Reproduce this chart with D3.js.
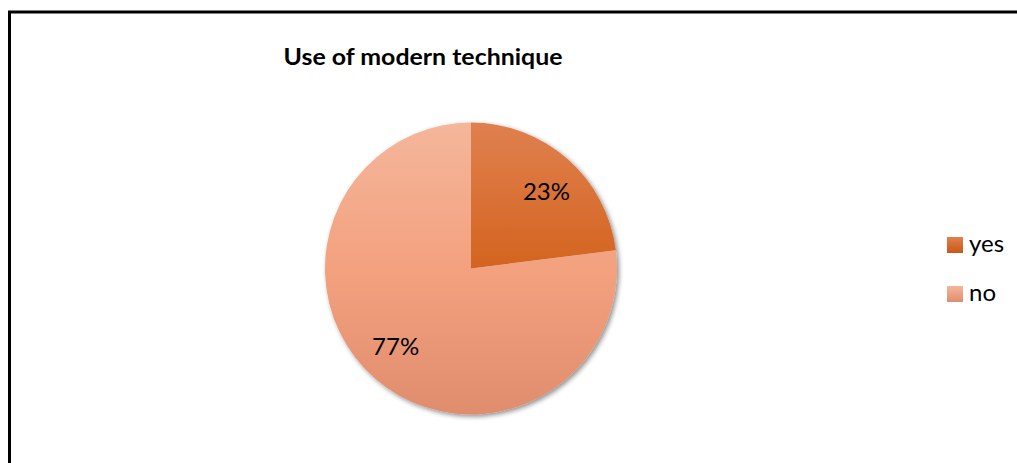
<!DOCTYPE html>
<html>
<head>
<meta charset="utf-8">
<script src="https://cdn.jsdelivr.net/npm/d3@7"></script>
<style>
  html, body { margin: 0; padding: 0; background: #fff; }
  svg { display: block; }
  text { font-family: Lato, "Open Sans", sans-serif; fill: #000; }
</style>
</head>
<body>
<svg id="chart" width="1017" height="463"></svg>
<script>
// Chart data
const title = "Use of modern technique";
const categories = ["yes", "no"];
const values = [23, 77];
const valueLabels = ["23%", "77%"];

// Fill ramps per category (top, middle, bottom)
const ramps = [
  ["#e0804f", "#d4641f", "#ca5915"],
  ["#f5b69b", "#f3a17f", "#e08d6d"]
];

const W = 1017, H = 463;
const svg = d3.select("#chart");
const defs = svg.append("defs");

// Outer chart frame (continues past the right and bottom edges)
svg.append("rect")
  .attr("x", 9.5).attr("y", 12)
  .attr("width", W + 20).attr("height", H + 20)
  .attr("fill", "#fff")
  .attr("stroke", "#000")
  .attr("stroke-width", 3);

// Title
svg.append("text")
  .attr("x", 423).attr("y", 65)
  .attr("text-anchor", "middle")
  .attr("font-weight", "bold")
  .attr("font-size", 23)
  .attr("textLength", 279)
  .attr("lengthAdjust", "spacingAndGlyphs")
  .text(title);

// Pie geometry
const cx = 471, cy = 268.5, r = 146;

const pie = d3.pie().sort(null).value(d => d);
const arcs = pie(values);
const arc = d3.arc().innerRadius(0).outerRadius(r);
const labelArc = d3.arc().innerRadius(r * 0.74).outerRadius(r * 0.74);
const labelTurn = 0.05; // labels sit slightly clockwise of the slice middle

// Vertical gradients spanning the whole pie height (pie-local coordinates)
ramps.forEach((c, i) => {
  const g = defs.append("linearGradient")
    .attr("id", "grad" + i)
    .attr("gradientUnits", "userSpaceOnUse")
    .attr("x1", 0).attr("x2", 0)
    .attr("y1", -r).attr("y2", r);
  g.append("stop").attr("offset", "0%").attr("stop-color", c[0]);
  g.append("stop").attr("offset", "50%").attr("stop-color", c[1]);
  g.append("stop").attr("offset", "100%").attr("stop-color", c[2]);

  const lg = defs.append("linearGradient")
    .attr("id", "lgrad" + i)
    .attr("x1", 0).attr("x2", 0).attr("y1", 0).attr("y2", 1);
  lg.append("stop").attr("offset", "0%").attr("stop-color", c[0]);
  lg.append("stop").attr("offset", "100%").attr("stop-color", c[2]);
});

// Soft shadow beneath the pie
const f = defs.append("filter").attr("id", "shadow")
  .attr("x", "-20%").attr("y", "-20%").attr("width", "140%").attr("height", "140%");
f.append("feGaussianBlur").attr("in", "SourceAlpha").attr("stdDeviation", 2.5).attr("result", "b");
f.append("feOffset").attr("in", "b").attr("dx", 1.5).attr("dy", 2).attr("result", "o");
f.append("feComponentTransfer").attr("in", "o").attr("result", "s")
  .append("feFuncA").attr("type", "linear").attr("slope", 0.45);
const m = f.append("feMerge");
m.append("feMergeNode").attr("in", "s");
m.append("feMergeNode").attr("in", "SourceGraphic");

const pieG = svg.append("g")
  .attr("transform", `translate(${cx},${cy})`);

pieG.append("g").attr("filter", "url(#shadow)")
  .selectAll("path")
  .data(arcs)
  .join("path")
  .attr("d", arc)
  .attr("fill", (d, i) => `url(#grad${i})`);

// Percentage labels
pieG.selectAll("text.val")
  .data(arcs)
  .join("text")
  .attr("class", "val")
  .attr("transform", d => {
    const [x, y] = labelArc.centroid({
      startAngle: d.startAngle + labelTurn,
      endAngle: d.endAngle + labelTurn
    });
    return `translate(${x},${y})`;
  })
  .attr("text-anchor", "middle")
  .attr("dy", "0.36em")
  .attr("font-size", 24)
  .text((d, i) => valueLabels[i]);

// Legend
const legend = svg.append("g").attr("transform", "translate(947,237)");
const item = legend.selectAll("g")
  .data(categories)
  .join("g")
  .attr("transform", (d, i) => `translate(0,${i * 49})`);
item.append("rect")
  .attr("width", 16).attr("height", 16)
  .attr("fill", (d, i) => `url(#lgrad${i})`);
item.append("text")
  .attr("x", 22).attr("y", 15)
  .attr("font-size", 24)
  .text(d => d);
</script>
</body>
</html>
